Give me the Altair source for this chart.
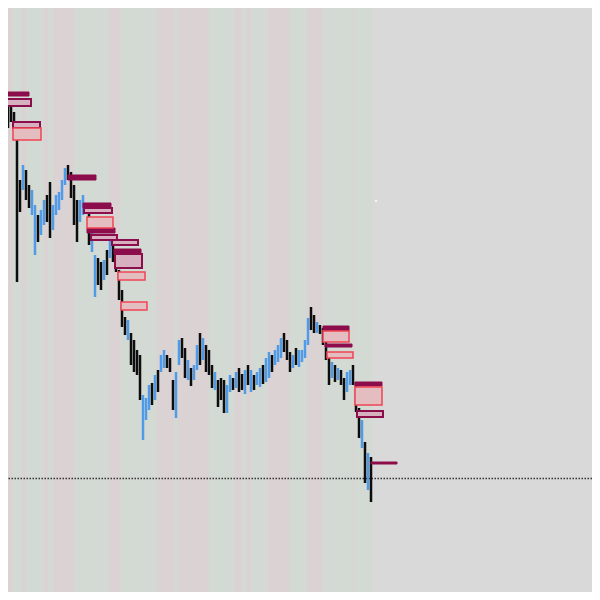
import altair as alt
import pandas as pd

# ---- candles (bar index, high, low, direction) ----
bar_high = [510, 508, 502, 500, 488, 472, 420, 435, 430, 415,
            410, 395, 385, 390, 400, 405, 418, 395, 405, 408,
            420, 432, 435, 428, 415, 400, 400, 405, 397, 388,
            375, 345, 342, 338, 340, 350, 362, 355, 348, 330,
            310, 283, 280, 267, 260, 250, 245, 205, 202, 215,
            217, 225, 230, 245, 250, 245, 242, 220, 228, 260,
            262, 252, 240, 232, 235, 255, 267, 262, 255, 250,
            235, 228, 220, 222, 220, 215, 225, 222, 228, 232,
            226, 230, 235, 230, 225, 228, 232, 235, 242, 248,
            245, 250, 255, 262, 267, 260, 248, 245, 252, 250,
            250, 260, 282, 293, 285, 278, 275, 272, 265, 245,
            238, 235, 232, 230, 222, 228, 230, 235, 218, 192,
            180, 158, 147, 143]
bar_low = [492, 488, 472, 478, 470, 318, 388, 410, 400, 392,
           385, 345, 358, 365, 375, 378, 362, 370, 385, 390,
           400, 415, 420, 402, 375, 358, 378, 385, 387, 355,
           348, 303, 315, 310, 320, 325, 342, 338, 328, 300,
           273, 265, 260, 235, 228, 225, 200, 160, 180, 190,
           195, 200, 208, 228, 232, 232, 228, 190, 182, 235,
           242, 222, 220, 214, 220, 230, 235, 240, 228, 225,
           212, 210, 193, 200, 187, 187, 208, 210, 212, 208,
           210, 206, 215, 208, 210, 215, 213, 216, 218, 222,
           228, 235, 238, 242, 248, 240, 228, 232, 235, 233,
           238, 242, 255, 270, 267, 267, 266, 255, 240, 215,
           222, 218, 220, 215, 200, 208, 215, 215, 188, 162,
           152, 117, 110, 98]
bar_dir = list("bbkkkkkbkkbbkbbkkbbbbbkkkkbbkkbbkkbkbkkkkkbkkkkbbbkbkbbkkkbbkkbkbbkbkkkbkkkbbkbkkbkbkbbkbbkbbbkkkbkbbbbkkbkkkkbkbkkbbkkkbkbk")

# ---- supply / demand zones ----
zone_start = [0, 0.67, 3.67, 3.67, 22, 27, 27.33, 28.33, 28.33, 29.67,
              36.67, 37.33, 37.67, 38.67, 39.67, 107, 107, 107.67, 108.33,
              117.67, 117.67, 118.33, 123]
zone_end = [9, 9.67, 12.67, 13, 31.33, 36.33, 36.67, 37, 37.67, 38.33,
            45.33, 46.33, 46.67, 47.67, 48.33, 115.67, 115.67, 116.67, 117,
            126.67, 126.67, 127, 131.67]
zone_top = [508, 501, 478, 472, 425, 397, 392, 383, 372, 365,
            360, 351, 346, 328, 298, 274, 269, 256, 248,
            218, 213, 189, 138]
zone_bottom = [504, 494, 472, 460, 420, 392, 387, 372, 367, 360,
               355, 346, 332, 320, 290, 269, 258, 253, 242,
               214, 195, 183, 136]
zone_kind = ["solid", "box", "box", "red", "solid", "solid", "box", "red", "solid", "box",
             "box", "solid", "box", "red", "red", "solid", "red", "solid", "red",
             "solid", "red", "box", "solid"]

# ---- background session stripes ----
stripe_edges = [-1, 3.5, 6.5, 8, 14, 15.5, 17, 24, 35.5, 39.5, 51.5, 57.5, 58.5,
                69, 77.5, 80, 81.5, 83, 88.5, 96, 101.5, 107, 117, 117.5, 123.5]
stripe_kind = ["P", "G"] * 12

last_price = 121.5
spot = (124.67, 399)

candles = pd.DataFrame({
    "i": list(range(len(bar_high))),
    "high": bar_high,
    "low": bar_low,
    "dir": bar_dir,
})
zones = pd.DataFrame({
    "s": zone_start, "e": zone_end, "t": zone_top, "b": zone_bottom, "k": zone_kind,
})
stripes = pd.DataFrame({
    "s": stripe_edges[:-1], "e": stripe_edges[1:], "k": stripe_kind,
})

W, H = 584, 584
xs = alt.Scale(domain=[2, 196.667], nice=False, zero=False)
ys = alt.Scale(domain=[8, 592], nice=False, zero=False)

def X(f):
    return alt.X(f, type="quantitative", scale=xs, axis=None)

def Y(f):
    return alt.Y(f, type="quantitative", scale=ys, axis=None)

layers = []
for kind, col in [("P", "#dbd2d4"), ("G", "#d3d9d3")]:
    layers.append(
        alt.Chart(stripes[stripes.k == kind]).mark_rect(color=col, clip=True).encode(
            x=X("s"), x2="e", y=alt.value(0), y2=alt.value(H)
        )
    )

layers.append(
    alt.Chart(pd.DataFrame({"p": [last_price]})).mark_rule(
        color="#333333", strokeDash=[1.5, 1.5], strokeWidth=1.3
    ).encode(y=Y("p"))
)

for d, col in [("b", "#4f9be8"), ("k", "#0d0d0d")]:
    layers.append(
        alt.Chart(candles[candles.dir == d]).mark_rule(color=col, strokeWidth=2.5, clip=True).encode(
            x=X("i"), y=Y("high"), y2="low"
        )
    )

zone_style = {
    "solid": dict(fill="#8c0d4b", stroke="#8c0d4b", strokeWidth=1),
    "box": dict(fill="#d6b0be", stroke="#8c0d4b", strokeWidth=2),
    "red": dict(fill="#e4bdc0", stroke="#ef4453", strokeWidth=1.5),
}
for kind, st in zone_style.items():
    layers.append(
        alt.Chart(zones[zones.k == kind]).mark_rect(clip=True, **st).encode(
            x=X("s"), x2="e", y=Y("t"), y2="b"
        )
    )

layers.append(
    alt.Chart(pd.DataFrame({"x": [spot[0]], "y": [spot[1]]})).mark_point(
        filled=True, color="#ffffff", size=4, opacity=1
    ).encode(x=X("x"), y=Y("y"))
)

chart = alt.layer(*layers).properties(
    width=W, height=H, padding=0, autosize="none", background="#d9d9d9"
).configure_view(stroke=None, fill="#d9d9d9")

chart.save("out.html", embed_options={"renderer": "svg", "actions": False})
